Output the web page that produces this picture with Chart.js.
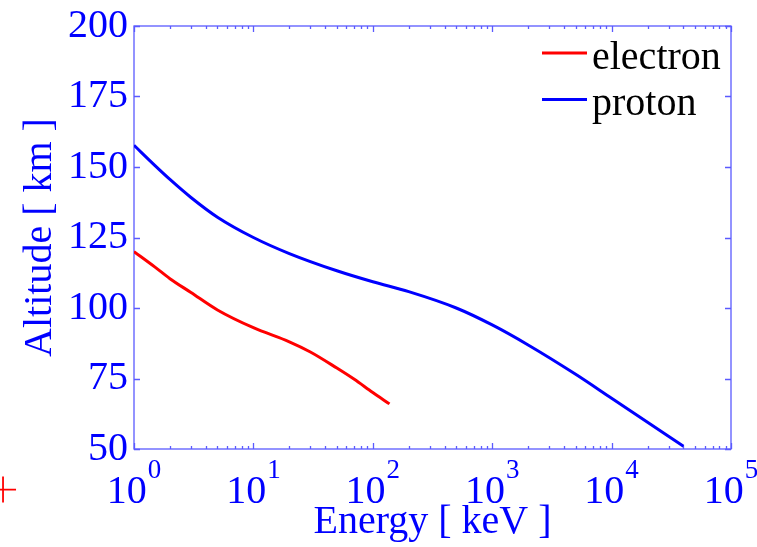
<!DOCTYPE html>
<html>
<head>
<meta charset="utf-8">
<script src="https://cdn.jsdelivr.net/npm/chart.js@4/dist/chart.umd.min.js"></script>
<style>
  html, body { margin: 0; padding: 0; background: #fff; }
  #grafico { display: block; }
</style>
</head>
<body>
<canvas id="grafico" width="757" height="547"></canvas>
<script>
// energia em keV, altitude em km
const energiaEletron = [1, 1.5, 2, 3, 5, 10, 20, 30, 50, 70, 100, 138];
const altitudeEletron = [120, 114.5, 110.4, 105.5, 99.3, 93, 88, 84.4, 78.7, 74.7, 70, 66];

const energiaProton = [1, 1.5, 2, 3, 5, 10, 20, 50, 100, 200, 500, 1000, 2000, 5000, 10000, 20000, 40000];
const altitudeProton = [157.7, 150.5, 145.6, 139.2, 132.2, 125, 119.3, 113.2, 109.3, 105.8, 100, 94, 86.9, 76.5, 68, 59.5, 51];

// marcador vermelho solto no canto inferior esquerdo (fora da área do gráfico)
const marcaEnergia = [0.08];
const marcaAltitude = [35.6];

const ticksAltitude = [50, 75, 100, 125, 150, 175, 200];
const expoentesEnergia = [0, 1, 2, 3, 4, 5];

const azul = '#0000ff';
const corMoldura = '#5a5aff';
const fonte = 'Liberation Serif';

const pontos = (xs, ys) => xs.map((x, i) => ({ x: x, y: ys[i] }));

// moldura, ticks para dentro, rótulos 10^n, legenda e marcador
const moldura = {
  id: 'moldura',
  beforeDatasetsDraw(chart) {
    const { ctx, chartArea: a, scales } = chart;
    const sx = scales.x, sy = scales.y;
    ctx.save();
    ctx.strokeStyle = corMoldura;
    ctx.lineWidth = 1.3;
    ctx.strokeRect(a.left, a.top, a.right - a.left, a.bottom - a.top);

    ctx.beginPath();
    ticksAltitude.forEach(v => {
      const y = Math.round(sy.getPixelForValue(v)) + 0.5;
      ctx.moveTo(a.left, y); ctx.lineTo(a.left + 6, y);
      ctx.moveTo(a.right, y); ctx.lineTo(a.right - 6, y);
    });
    expoentesEnergia.forEach(e => {
      const base = Math.pow(10, e);
      const x = Math.round(sx.getPixelForValue(base)) + 0.5;
      ctx.moveTo(x, a.bottom); ctx.lineTo(x, a.bottom - 6);
      ctx.moveTo(x, a.top); ctx.lineTo(x, a.top + 6);
      if (e === expoentesEnergia[expoentesEnergia.length - 1]) return;
      for (let m = 2; m <= 9; m++) {
        const xm = Math.round(sx.getPixelForValue(base * m)) + 0.5;
        ctx.moveTo(xm, a.bottom); ctx.lineTo(xm, a.bottom - 3);
        ctx.moveTo(xm, a.top); ctx.lineTo(xm, a.top + 3);
      }
    });
    ctx.stroke();
    ctx.restore();
  },
  afterDraw(chart) {
    const { ctx, scales } = chart;
    const sx = scales.x, sy = scales.y;
    ctx.save();
    ctx.fillStyle = azul;
    ctx.textBaseline = 'alphabetic';
    ctx.textAlign = 'left';
    expoentesEnergia.forEach(e => {
      const x = sx.getPixelForValue(Math.pow(10, e));
      ctx.font = '40px ' + fonte;
      const w1 = ctx.measureText('10').width;
      ctx.font = '27px ' + fonte;
      const w2 = ctx.measureText(String(e)).width;
      const x0 = x - (w1 + w2 + 1) / 2;
      ctx.font = '40px ' + fonte;
      ctx.fillText('10', x0, 503);
      ctx.font = '27px ' + fonte;
      ctx.fillText(String(e), x0 + w1 + 1, 478);
    });

    // legenda
    const linhas = [{ ds: 0, y: 53 }, { ds: 1, y: 99.5 }];
    ctx.font = '40px ' + fonte;
    linhas.forEach(l => {
      const ds = chart.data.datasets[l.ds];
      ctx.strokeStyle = ds.borderColor;
      ctx.lineWidth = 3;
      ctx.beginPath();
      ctx.moveTo(542, l.y); ctx.lineTo(587, l.y);
      ctx.stroke();
      ctx.fillStyle = '#000';
      ctx.fillText(ds.label, 592, l.y + 15.5);
    });

    // o Chart.js não desenha pontos fora da chartArea, então a cruz vai aqui
    ctx.strokeStyle = '#ff0000';
    ctx.fillStyle = '#ff0000';
    ctx.lineWidth = 1.8;
    marcaEnergia.forEach((e, i) => {
      const px = sx.getPixelForValue(e);
      const py = sy.getPixelForValue(marcaAltitude[i]);
      Chart.helpers.drawPoint(ctx, { pointStyle: 'cross', radius: 13, rotation: 0, borderWidth: 1.8 }, px, py);
    });
    ctx.restore();
  }
};

const ctx = document.getElementById('grafico').getContext('2d');
new Chart(ctx, {
  type: 'line',
  data: {
    datasets: [
      {
        label: 'electron',
        data: pontos(energiaEletron, altitudeEletron),
        borderColor: '#ff0000',
        borderWidth: 3,
        pointRadius: 0,
        cubicInterpolationMode: 'monotone'
      },
      {
        label: 'proton',
        data: pontos(energiaProton, altitudeProton),
        borderColor: '#0000ff',
        borderWidth: 3,
        pointRadius: 0,
        cubicInterpolationMode: 'monotone'
      }
    ]
  },
  options: {
    responsive: false,
    animation: false,
    layout: { padding: { top: 21, right: 26, left: 0, bottom: 0 } },
    plugins: {
      legend: { display: false },
      tooltip: { enabled: false }
    },
    scales: {
      x: {
        type: 'logarithmic',
        min: 1,
        max: 1e5,
        grid: { display: false },
        border: { display: false },
        ticks: { display: false },
        title: {
          display: true,
          text: 'Energy [ keV ]',
          color: azul,
          font: { family: fonte, size: 40 },
          padding: { top: 0, bottom: 1 }
        },
        afterFit(s) { s.height = 98; }
      },
      y: {
        min: 50,
        max: 200,
        afterBuildTicks(s) { s.ticks = ticksAltitude.map(v => ({ value: v })); },
        grid: { display: false, drawTicks: false },
        border: { display: false },
        ticks: {
          color: azul,
          padding: 6,
          font: { family: fonte, size: 40, lineHeight: 1 }
        },
        title: {
          display: true,
          text: 'Altitude [ km ]',
          color: azul,
          font: { family: fonte, size: 40 },
          padding: { top: 16, bottom: 0 }
        },
        afterFit(s) { s.width = 134; }
      }
    }
  },
  plugins: [moldura]
});
</script>
</body>
</html>
